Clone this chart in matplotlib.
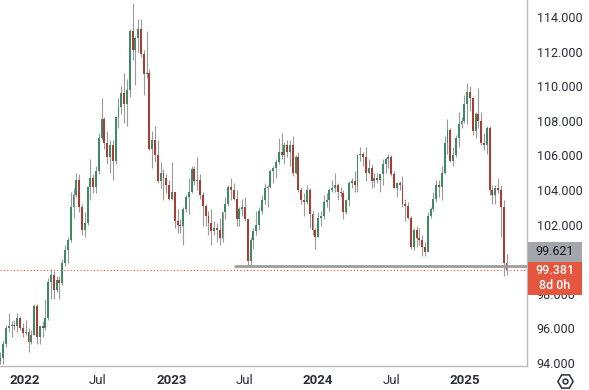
import numpy as np
import pandas as pd
import matplotlib
matplotlib.use('Agg')
import matplotlib.pyplot as plt
import matplotlib.dates as mdates
from matplotlib.lines import Line2D
from matplotlib.patches import Rectangle

plt.rcParams['font.family'] = ['Roboto', 'DejaVu Sans']

# --- weekly candles (DXY), first week starts 2021-11-01 ---
first_week = '2021-11-01'
opens = [94.1, 94.3, 95.1, 96.0, 96.1, 96.2, 96.1, 96.6, 96.0,
         95.7, 95.8, 95.2, 95.6, 97.3, 95.5, 96.1, 96.0, 96.6, 98.7, 99.1, 98.2, 98.8, 98.6,
         99.8, 100.5, 101.1, 103.0, 103.7, 104.6, 103.0, 101.7, 102.1, 104.2, 104.7, 104.2,
         105.1, 107.0, 108.1, 106.7, 105.9, 106.6, 105.7, 108.2, 108.8, 109.6, 109.0, 109.8,
         113.2, 112.1, 112.8, 113.3, 111.9, 110.7, 110.8, 106.4, 106.9, 106.0, 104.5, 105.0,
         104.7, 104.3,
         103.5, 103.9, 102.2, 102.0, 101.9, 102.9, 103.6, 103.9, 105.2, 104.5, 104.6, 103.7,
         103.1, 102.5, 102.1, 101.6, 101.8, 101.7, 101.2, 102.7, 103.2, 104.2, 104.0, 103.5,
         102.3, 102.9, 103.0, 102.3, 99.9, 101.1, 101.6, 102.0, 102.8, 103.4, 104.1, 104.2,
         105.1, 105.3, 105.6, 106.2, 106.0, 106.6, 106.2, 106.6, 105.0, 105.9, 104.0, 103.4,
         103.3, 104.0, 102.6, 101.7,
         101.3, 102.4, 102.5, 103.3, 103.4, 104.0, 104.1, 104.3, 103.9, 103.8, 102.7, 103.4,
         104.4, 104.5, 104.3, 106.0, 106.1, 105.9, 105.0, 105.3, 104.5, 104.7, 104.6, 104.9,
         105.5, 105.8, 105.9, 104.9, 104.1, 104.4, 104.3, 103.2, 103.1, 102.4, 100.7, 101.7,
         101.2, 101.1, 100.7, 100.4, 102.5, 102.9, 103.5, 104.3, 104.2, 105.0, 106.7, 107.5,
         105.7, 106.0, 107.0, 107.8, 108.0,
         109.0, 109.7, 109.3, 107.4, 108.4, 108.0, 106.7, 106.6, 107.6, 104.0, 103.7, 104.1,
         104.0, 103.0, 99.8]
highs = [94.6, 95.3, 96.2, 96.9, 96.4, 96.5, 96.9, 96.7, 96.3,
         96.5, 96.0, 95.9, 97.4, 97.4, 96.1, 96.4, 97.7, 98.9, 99.4, 99.3, 99.0, 99.0, 100.0,
         100.8, 101.3, 103.9, 104.1, 105.0, 104.9, 103.2, 102.7, 104.2, 105.8, 104.9, 105.4,
         107.3, 109.3, 108.2, 107.4, 106.9, 106.9, 108.3, 109.3, 110.0, 110.8, 110.4, 113.3,
         114.8, 112.9, 113.9, 113.9, 112.1, 113.2, 111.0, 107.4, 107.7, 106.9, 105.6, 105.2,
         104.9, 104.6,
         105.6, 103.9, 102.9, 102.3, 103.0, 103.7, 104.7, 105.4, 105.4, 105.9, 104.9, 103.9,
         103.2, 102.8, 102.9, 102.2, 102.1, 102.4, 102.7, 103.6, 104.3, 104.7, 104.4, 104.0,
         103.0, 103.5, 103.6, 102.3, 101.3, 101.8, 102.8, 103.0, 103.7, 104.4, 104.3, 105.2,
         105.4, 105.8, 107.0, 107.3, 106.8, 106.9, 106.9, 107.1, 106.0, 106.2, 104.2, 103.8,
         104.3, 104.1, 102.8, 101.8,
         102.7, 102.8, 103.7, 103.8, 104.1, 104.6, 105.0, 104.4, 104.2, 104.0, 103.5, 104.5,
         104.7, 105.1, 106.1, 106.5, 106.2, 106.5, 105.8, 105.5, 105.0, 105.0, 104.9, 105.8,
         105.9, 106.1, 106.0, 105.1, 104.4, 104.5, 104.8, 103.5, 103.3, 102.5, 101.8, 101.9,
         101.8, 101.4, 101.0, 102.7, 103.0, 103.9, 104.6, 104.6, 105.4, 107.1, 108.1, 107.6,
         106.5, 107.2, 108.5, 108.2, 109.5,
         110.2, 110.0, 109.4, 108.5, 109.9, 108.5, 107.3, 107.7, 107.7, 104.3, 104.3, 104.7,
         104.3, 103.4, 100.3]
lows = [93.9, 93.9, 94.9, 95.8, 95.5, 95.9, 95.8, 95.9, 95.5,
        95.6, 94.6, 95.1, 95.6, 95.1, 95.1, 95.5, 95.9, 96.5, 97.7, 97.7, 98.1, 97.7, 98.5,
        99.6, 99.8, 101.0, 102.4, 103.6, 102.7, 101.4, 101.3, 102.0, 103.4, 103.8, 103.8,
        104.9, 106.9, 106.4, 105.5, 105.0, 104.6, 105.5, 107.6, 108.4, 107.9, 107.7, 109.4,
        111.5, 110.1, 112.0, 111.7, 109.5, 110.5, 106.3, 105.3, 105.6, 104.4, 104.1, 103.4,
        103.8, 103.4,
        103.4, 101.8, 101.5, 101.5, 100.8, 102.7, 102.6, 103.8, 104.3, 104.0, 103.5, 101.9,
        101.9, 101.4, 100.8, 101.4, 101.0, 100.8, 101.0, 102.3, 103.1, 103.4, 103.4, 101.9,
        101.9, 102.5, 102.2, 99.6, 99.6, 100.6, 101.4, 101.7, 102.6, 103.2, 103.0, 104.1,
        104.4, 104.7, 105.5, 105.8, 105.5, 105.9, 105.4, 104.8, 104.9, 103.9, 103.2, 102.5,
        103.2, 101.8, 101.4, 100.6,
        101.3, 101.9, 102.3, 103.0, 102.8, 103.9, 103.9, 103.4, 103.6, 102.3, 102.6, 103.1,
        104.1, 103.9, 103.9, 105.7, 105.4, 104.5, 104.9, 104.1, 104.2, 104.4, 103.9, 104.3,
        105.0, 105.3, 104.8, 104.1, 103.6, 104.0, 103.0, 102.2, 102.3, 100.6, 100.5, 100.7,
        100.8, 100.2, 100.2, 100.4, 102.4, 102.8, 103.3, 103.6, 103.4, 104.9, 106.1, 105.6,
        105.4, 105.9, 106.5, 107.6, 107.9,
        107.8, 108.6, 107.2, 107.0, 107.6, 106.6, 106.3, 106.1, 103.7, 103.2, 103.2, 103.8,
        101.3, 99.0, 99.1]
closes = [94.3, 95.1, 96.0, 96.1, 96.2, 96.1, 96.6, 96.0, 95.7,
          95.8, 95.2, 95.6, 97.3, 95.5, 96.1, 96.0, 96.6, 98.7, 99.1, 98.2, 98.8, 98.6, 99.8,
          100.5, 101.1, 103.0, 103.7, 104.6, 103.0, 101.7, 102.1, 104.2, 104.7, 104.2, 105.1,
          107.0, 108.1, 106.7, 105.9, 106.6, 105.7, 108.2, 108.8, 109.6, 109.0, 109.8, 113.2,
          112.1, 112.8, 113.3, 111.9, 110.7, 110.8, 106.4, 106.9, 106.0, 104.5, 105.0, 104.7,
          104.3, 103.5,
          103.9, 102.2, 102.0, 101.9, 102.9, 103.6, 103.9, 105.2, 104.5, 104.6, 103.7, 103.1,
          102.5, 102.1, 101.6, 101.8, 101.7, 101.2, 102.7, 103.2, 104.2, 104.0, 103.5, 102.3,
          102.9, 103.0, 102.3, 99.9, 101.1, 101.6, 102.0, 102.8, 103.4, 104.1, 104.2, 105.1,
          105.3, 105.6, 106.2, 106.0, 106.6, 106.2, 106.6, 105.0, 105.9, 104.0, 103.4, 103.3,
          104.0, 102.6, 101.7, 101.3,
          102.4, 102.5, 103.3, 103.4, 104.0, 104.1, 104.3, 103.9, 103.8, 102.7, 103.4, 104.4,
          104.5, 104.3, 106.0, 106.1, 105.9, 105.0, 105.3, 104.5, 104.7, 104.6, 104.9, 105.5,
          105.8, 105.9, 104.9, 104.1, 104.4, 104.3, 103.2, 103.1, 102.4, 100.7, 101.7, 101.2,
          101.1, 100.7, 100.4, 102.5, 102.9, 103.5, 104.3, 104.2, 105.0, 106.7, 107.5, 105.7,
          106.0, 107.0, 107.8, 108.0, 109.0,
          109.7, 109.3, 107.4, 108.4, 108.0, 106.7, 106.6, 107.6, 104.0, 103.7, 104.1, 104.0,
          103.0, 99.8, 99.381]

level_line = 99.621
level_start = '2023-06-05'
last_price = 99.381
countdown = '8d 0h'

x_tick_dates = ['2022-01-01', '2022-07-01', '2023-01-01', '2023-07-01',
                '2024-01-01', '2024-07-01', '2025-01-01']
x_tick_labels = ['2022', 'Jul', '2023', 'Jul', '2024', 'Jul', '2025']
# 100 is hidden behind the price label boxes on the chart
y_ticks = [94, 96, 98, 102, 104, 106, 108, 110, 112, 114]

up_color = '#3f8a66'
down_color = '#a83e33'
wick_color = '#9a9a9a'
text_color = '#2a2e39'
axis_color = '#b8bbc2'

o = np.array(opens)
h = np.array(highs)
l = np.array(lows)
c = np.array(closes)
weeks = pd.date_range(first_week, periods=len(c), freq='7D')
wx = mdates.date2num(weeks)

W, H = 589, 390
fig = plt.figure(figsize=(W / 100, H / 100), dpi=100)
ax = fig.add_axes([0, 24 / H, 527 / W, 366 / H])

colors = np.where(c >= o, up_color, down_color)
ax.vlines(wx, l, h, color=wick_color, lw=0.8, zorder=2)
body = np.maximum(np.abs(c - o), 0.06)
ax.bar(wx, body, bottom=np.minimum(o, c), width=4.8, color=colors, linewidth=0, zorder=3)

x0 = mdates.date2num(pd.Timestamp('2021-10-31'))
x1 = mdates.date2num(pd.Timestamp('2025-06-04'))
ax.set_xlim(x0, x1)
ax.set_ylim(93.81, 115.0)

# drawn horizontal level + last price line
ax.hlines(level_line, mdates.date2num(pd.Timestamp(level_start)), x1,
          color='#9e9e9e', lw=2.0, zorder=4)
ax.axhline(last_price, color='#e5563f', lw=0.8, ls=(0, (1, 2)), zorder=1)

for s in ['top', 'left']:
    ax.spines[s].set_visible(False)
for s in ['right', 'bottom']:
    ax.spines[s].set_color(axis_color)
    ax.spines[s].set_linewidth(1)

ax.yaxis.tick_right()
ax.set_yticks(y_ticks)
ax.set_yticklabels([f'{v:.3f}' for v in y_ticks])
ax.tick_params(axis='y', length=0, pad=7, labelsize=9, labelcolor=text_color)
ax.set_xticks(mdates.date2num(pd.to_datetime(x_tick_dates)))
ax.set_xticklabels(x_tick_labels)
ax.tick_params(axis='x', length=0, pad=6, labelsize=9.5, labelcolor=text_color)
for t in ax.get_xticklabels():
    if t.get_text() != 'Jul':
        t.set_fontweight('bold')

# price labels on the right scale
fig.canvas.draw()
def fig_y(v):
    return ax.transData.transform((x0, v))[1] / fig.bbox.height

lv = fig_y(level_line)
lp = fig_y(last_price)
bx0, bx1 = 528 / W, 582 / W
fig.add_artist(Rectangle((bx0, lv + 4 / H), bx1 - bx0, 20 / H, transform=fig.transFigure,
                         facecolor='#a3a6ad', edgecolor='none', zorder=10))
fig.text((bx0 + bx1) / 2, lv + 14 / H, f'{level_line:.3f}', ha='center', va='center',
         fontsize=9, color='#131722', zorder=11)
fig.add_artist(Rectangle((bx0, lp - 25 / H), bx1 - bx0, 33 / H, transform=fig.transFigure,
                         facecolor='#e5563f', edgecolor='none', zorder=10))
fig.text((bx0 + bx1) / 2, lp - 1 / H, f'{last_price:.3f}', ha='center', va='center',
         fontsize=9, color='white', fontweight='medium', zorder=11)
fig.text((bx0 + bx1) / 2, lp - 16 / H, countdown, ha='center', va='center',
         fontsize=9, color='white', fontweight='medium', zorder=11)

# settings icon bottom right
fig.add_artist(Line2D([565 / W], [1 - 381 / H], marker='H', markersize=11, mfc='none',
                      mec=text_color, mew=1.1, transform=fig.transFigure))
fig.add_artist(Line2D([565 / W], [1 - 381 / H], marker='o', markersize=3.5, mfc='none',
                      mec=text_color, mew=1.1, transform=fig.transFigure))

fig.savefig('out.png', dpi=100)
